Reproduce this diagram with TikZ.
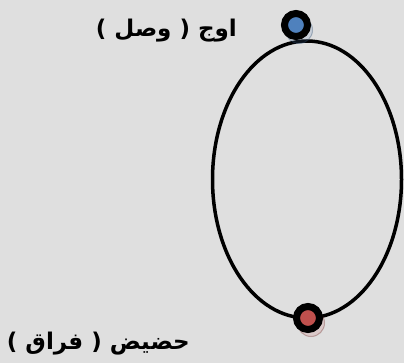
\documentclass[tikz,border=0pt]{standalone}
\usepackage{fontspec}
\newfontfamily\arabicfont[Script=Arabic]{DejaVu Sans}
\TeXXeTstate=1
\usetikzlibrary{positioning}
\definecolor{bgGray}{RGB}{223,223,223}
\definecolor{apoBlue}{RGB}{79,129,189}
\definecolor{periRed}{RGB}{192,80,77}

\begin{document}
\begin{tikzpicture}[x=1pt,y=-1pt,
      dot/.style={circle,draw=black,line width=7pt,minimum size=23pt,inner sep=0pt},
      ghost/.style={circle,minimum size=27pt,inner sep=0pt,draw=#1!60!black,
        line width=1pt,draw opacity=.35,fill=#1,fill opacity=.15},
      lab/.style={font=\arabicfont\bfseries\fontsize{23}{27}\selectfont,inner sep=0pt,anchor=east}]
    \fill[bgGray] (0,0) rectangle (404,363);
    \useasboundingbox (0,0) rectangle (404,363);
    % orbit
    \draw[line width=3.5pt] (307,179.5) ellipse [x radius=94.5,y radius=138.5];
    % apogee and perigee
    \node[ghost=apoBlue] at (299,30) {};
    \node[dot,fill=apoBlue] (apo) at (296,25) {};
    \node[ghost=periRed] at (311,323) {};
    \node[dot,fill=periRed] (peri) at (308,318) {};
    \node[lab] (apolab) at (237,31) {\beginR اوج ( وصل )\endR};
    \node[lab] (perilab) at (190,344) {\beginR حضيض ( فراق )\endR};
  \end{tikzpicture}
\end{document}
